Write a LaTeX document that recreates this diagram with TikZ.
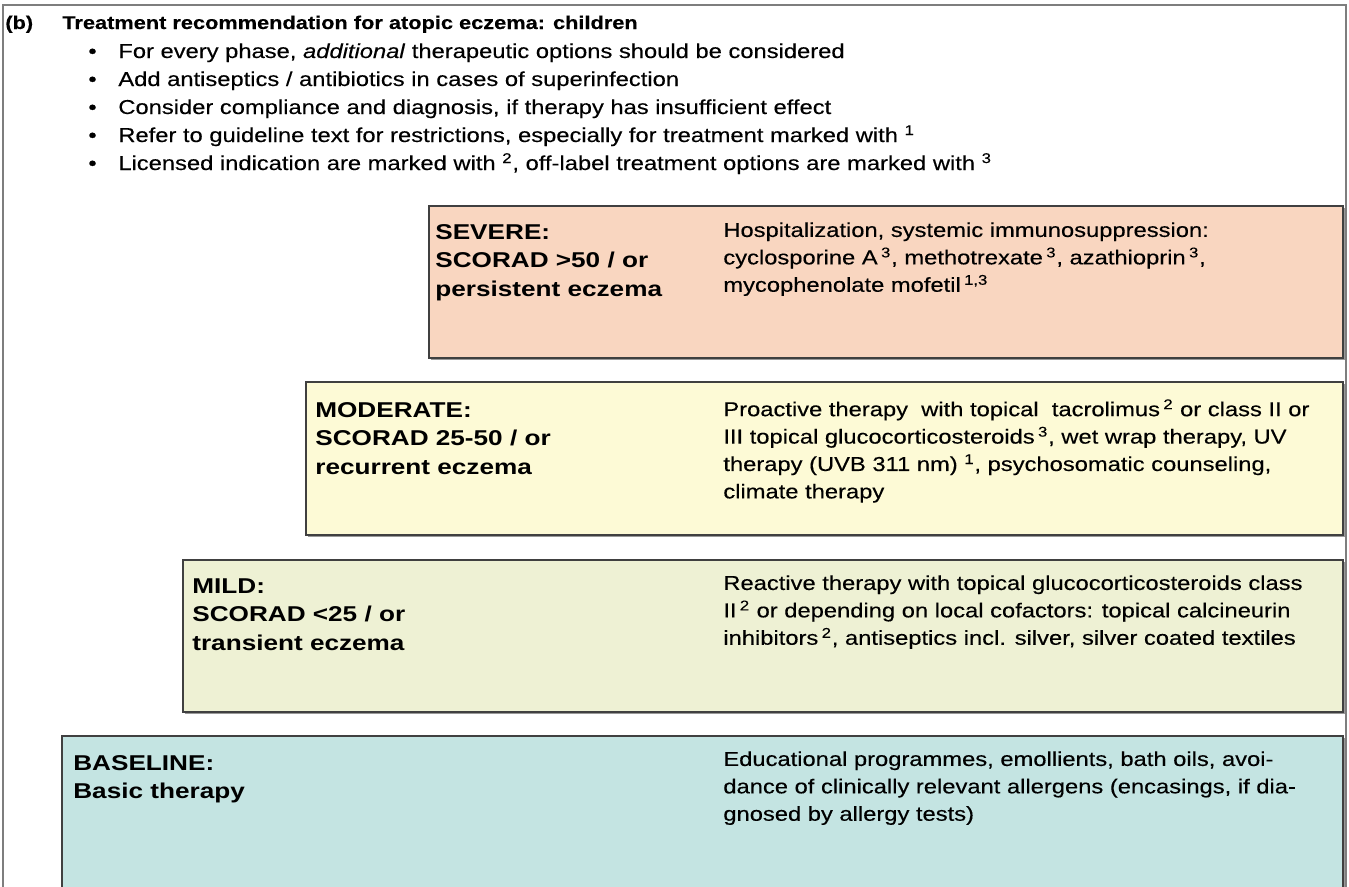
\documentclass[tikz,border=0pt]{standalone}
\usepackage{fontspec}
\setmainfont{Liberation Sans}[FakeStretch=1.18, FakeBold=0.3]
\newfontfamily\gradefont{Liberation Sans}[FakeStretch=1.22]
\usepackage{xcolor}
\definecolor{framegray}{HTML}{7E7E7E}
\definecolor{boxline}{HTML}{404040}
\definecolor{sevfill}{HTML}{F9D6C0}
\definecolor{modfill}{HTML}{FDFAD6}
\definecolor{mildfill}{HTML}{EEF1D4}
\definecolor{basefill}{HTML}{C4E4E2}

\begin{document}
\begin{tikzpicture}[x=0.02cm, y=-0.02cm,
	stage/.style={draw=boxline, line width=1.1pt},
	shade/.style={fill=black!40},
	txt/.style={anchor=north west, inner sep=0pt, align=left,
		font=\fontsize{11.45}{15.6}\selectfont},
	grade/.style={anchor=north west, inner sep=0pt, align=left,
		font=\gradefont\bfseries\fontsize{12.2}{16.3}\selectfont},
	item/.style={anchor=base west, inner sep=0pt,
		font=\fontsize{11.45}{15.9}\selectfont},
	head/.style={anchor=base west, inner sep=0pt,
		font=\bfseries\fontsize{10.5}{14}\selectfont}]
	\useasboundingbox (0,0) rectangle (1349,886);
	\clip (0,0) rectangle (1349,886);
	\fill[white] (0,0) rectangle (1349,886);
	\draw[framegray, line width=1.1pt] (3,5) rectangle (1346,920);

	% heading and notes
	\node[head] (tag) at (5,29) {(b)};
	\node[head] (title) at (62,29) {Treatment recommendation for atopic eczema: children};
	\foreach \txt [count=\i] in {
		{For every phase, \textit{additional} therapeutic options should be considered},
		{Add antiseptics / antibiotics in cases of superinfection},
		{Consider compliance and diagnosis, if therapy has insufficient effect},
		{Refer to guideline text for restrictions, especially for treatment marked with \textsuperscript{1}},
		{Licensed indication are marked with \textsuperscript{2}, off-label treatment options are marked with \textsuperscript{3}}}{
		\node[item] (dot\i) at (88,{58+28*(\i-1)}) {•};
		\node[item] (note\i) at (118,{58+28*(\i-1)}) {\txt};
	}

	% stages, top to bottom
	\fill[shade] (431,208) rectangle (1345,360);
	\draw[stage, fill=sevfill] (429,206) rectangle (1343,358);
	\fill[shade] (308,384) rectangle (1345,537);
	\draw[stage, fill=modfill] (306,382) rectangle (1343,535);
	\fill[shade] (185,562) rectangle (1345,714);
	\draw[stage, fill=mildfill] (183,560) rectangle (1343,712);
	\fill[shade] (64,738) rectangle (1345,930);
	\draw[stage, fill=basefill] (62,736) rectangle (1343,928);

	\node[grade] (severe) at (435,224) {SEVERE:\\SCORAD >50 / or\\persistent eczema};
	\node[txt] (severetx) at (723,222) {Hospitalization, systemic immunosuppression:\\
		cyclosporine A\,\textsuperscript{3}, methotrexate\,\textsuperscript{3}, azathioprin\,\textsuperscript{3},\\
		mycophenolate mofetil\,\textsuperscript{1,3}};

	\node[grade] (moderate) at (315,402) {MODERATE:\\SCORAD 25-50 / or\\recurrent eczema};
	\node[txt] (moderatetx) at (723,399) {Proactive therapy\ \ with topical\ \ tacrolimus\,\textsuperscript{2} or class II or\\
		III topical glucocorticosteroids\,\textsuperscript{3}, wet wrap therapy, UV\\
		therapy (UVB 311 nm) \textsuperscript{1}, psychosomatic counseling,\\
		climate therapy};

	\node[grade] (mild) at (192,578) {MILD:\\SCORAD <25 / or\\transient eczema};
	\node[txt] (mildtx) at (723,575) {Reactive therapy with topical glucocorticosteroids class\\
		II\,\textsuperscript{2} or depending on local cofactors: topical calcineurin\\
		inhibitors\,\textsuperscript{2}, antiseptics incl. silver, silver coated textiles};

	\node[grade] (basic) at (73,755) {BASELINE:\\Basic therapy};
	\node[txt] (basictx) at (723,751) {Educational programmes, emollients, bath oils, avoi-\\
		dance of clinically relevant allergens (encasings, if dia-\\
		gnosed by allergy tests)};
\end{tikzpicture}
\end{document}
